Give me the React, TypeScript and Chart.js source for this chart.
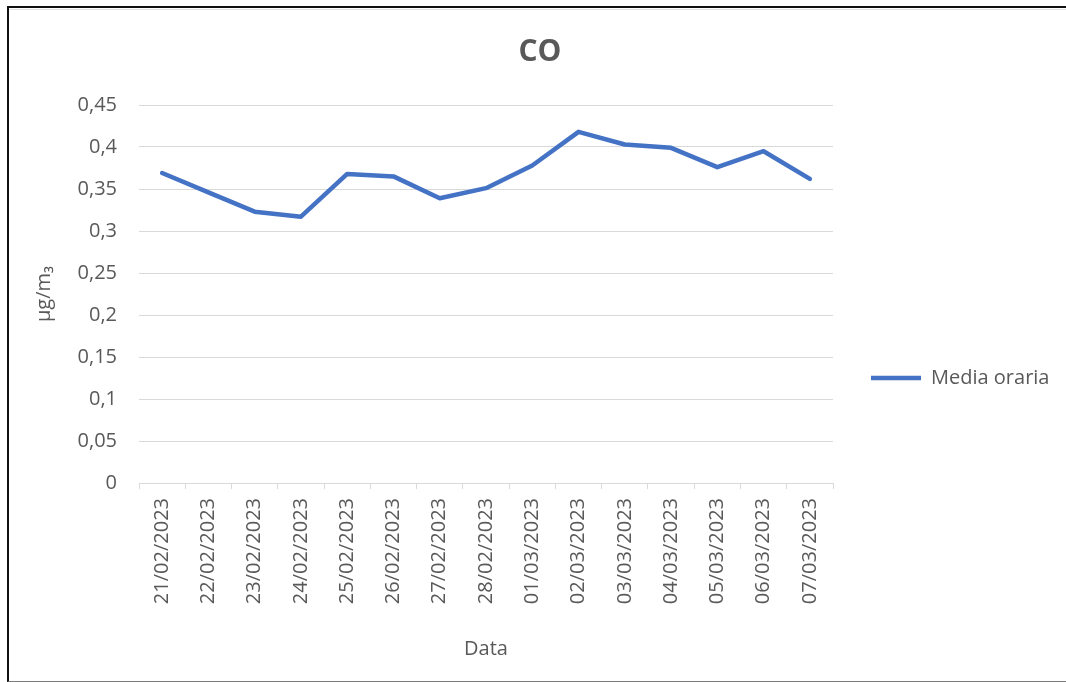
import { useEffect, useRef } from 'react';
import { Chart, registerables } from 'chart.js';

Chart.register(...registerables);

const CATEGORIES = [
  '21/02/2023', '22/02/2023', '23/02/2023', '24/02/2023', '25/02/2023',
  '26/02/2023', '27/02/2023', '28/02/2023', '01/03/2023', '02/03/2023',
  '03/03/2023', '04/03/2023', '05/03/2023', '06/03/2023', '07/03/2023',
];
const MEDIA_ORARIA = [
  0.369, 0.346, 0.323, 0.317, 0.368,
  0.365, 0.339, 0.351, 0.378, 0.418,
  0.403, 0.399, 0.376, 0.395, 0.362,
];
const Y_TICK_LABELS = ['0', '0,05', '0,1', '0,15', '0,2', '0,25', '0,3', '0,35', '0,4', '0,45'];
const TITLE = 'CO';
const SERIES_LABEL = 'Media oraria';
const X_TITLE = 'Data';
const Y_TITLE = 'µg/m₃';

const FONT = "'Open Sans', 'Noto Sans', sans-serif";
const TEXT = '#595959';
const GRID = '#d9d9d9';
const BLUE = '#4472C4';

export default function App() {
  const ref = useRef<HTMLCanvasElement>(null);

  useEffect(() => {
    const canvas = ref.current;
    if (!canvas) return;
    const legendFont = 20;
    const legendPad = 38;
    const boxW = 50;
    const m = document.createElement('canvas').getContext('2d')!;
    m.font = `${legendFont}px ${FONT}`;
    const tw = m.measureText(SERIES_LABEL).width;
    const legendW = legendPad + boxW + legendFont / 2 + tw + 10;
    const padRight = Math.max(0, 1066 - 833 - legendW);
    const padLeft = 14 + padRight;

    const chart = new Chart(canvas, {
      type: 'line',
      data: {
        labels: CATEGORIES,
        datasets: [
          {
            label: SERIES_LABEL,
            data: MEDIA_ORARIA,
            borderColor: BLUE,
            backgroundColor: BLUE,
            borderWidth: 4.5,
            pointRadius: 0,
            pointHoverRadius: 0,
            tension: 0,
            borderJoinStyle: 'round',
            borderCapStyle: 'round',
          },
        ],
      },
      options: {
        animation: false,
        responsive: false,
        maintainAspectRatio: false,
        devicePixelRatio: 1,
        layout: { padding: { left: padLeft, right: padRight, top: 0, bottom: 0 } },
        scales: {
          x: {
            type: 'category',
            offset: true,
            afterFit: (s: any) => {
              s.height = 682 - 483;
            },
            grid: {
              offset: true,
              drawOnChartArea: false,
              drawTicks: true,
              tickLength: 6,
              color: GRID,
            },
            border: { display: true, color: GRID, width: 1 },
            ticks: {
              autoSkip: false,
              minRotation: 90,
              maxRotation: 90,
              padding: 9,
              color: TEXT,
              font: { family: FONT, size: 20 },
            },
            title: {
              display: true,
              text: X_TITLE,
              color: TEXT,
              font: { family: FONT, size: 20, lineHeight: 1.2 },
              padding: { top: 4, bottom: 21 },
            },
          },
          y: {
            min: 0,
            max: 0.45,
            afterFit: (s: any) => {
              s.width = 139 - padLeft;
            },
            grid: { color: GRID, drawTicks: false, lineWidth: 1 },
            border: { display: false },
            ticks: {
              stepSize: 0.05,
              padding: 22,
              color: TEXT,
              font: { family: FONT, size: 20 },
              callback: (_v: any, i: number) => Y_TICK_LABELS[i],
            },
            title: {
              display: true,
              text: Y_TITLE,
              color: TEXT,
              font: { family: FONT, size: 20, lineHeight: 1.2 },
              padding: { top: 12, bottom: 0 },
            },
          },
        },
        plugins: {
          title: {
            display: true,
            text: TITLE,
            color: TEXT,
            font: { family: FONT, size: 30, weight: 'bold', lineHeight: 1.2 },
            padding: { top: 34, bottom: 35 },
          },
          legend: {
            display: true,
            position: 'right',
            align: 'center',
            title: {
              display: true,
              text: '',
              font: { size: 10, lineHeight: 1 },
              padding: { top: 64, bottom: 0 },
            },
            labels: {
              boxWidth: boxW,
              boxHeight: 4.5,
              padding: legendPad,
              color: TEXT,
              font: { family: FONT, size: legendFont, lineHeight: 1 },
              generateLabels: (c: any) =>
                Chart.defaults.plugins.legend.labels
                  .generateLabels(c)
                  .map((l: any) => ({ ...l, lineWidth: 0, fillStyle: BLUE, fontColor: TEXT })),
            },
          },
          tooltip: { enabled: false },
        },
      } as any,
    });
    return () => chart.destroy();
  }, []);

  return (
    <div
      style={{
        position: 'fixed',
        left: 0,
        top: 0,
        width: 1066,
        height: 682,
        background: '#ffffff',
        overflow: 'hidden',
      }}
    >
      <canvas
        ref={ref}
        width={1066}
        height={682}
        style={{ position: 'absolute', left: 0, top: 0, width: 1066, height: 682 }}
      />
      <div
        style={{
          position: 'absolute',
          left: 7,
          top: 9,
          width: 1066,
          height: 0,
          borderTop: '1px solid #e3e3e3',
          pointerEvents: 'none',
        }}
      />
      <div
        style={{
          position: 'absolute',
          left: 7,
          top: 6,
          width: 1070,
          height: 673,
          borderTop: '2px solid #111',
          borderLeft: '2px solid #111',
          borderBottom: '1px solid #7a7a7a',
          pointerEvents: 'none',
        }}
      />
    </div>
  );
}
